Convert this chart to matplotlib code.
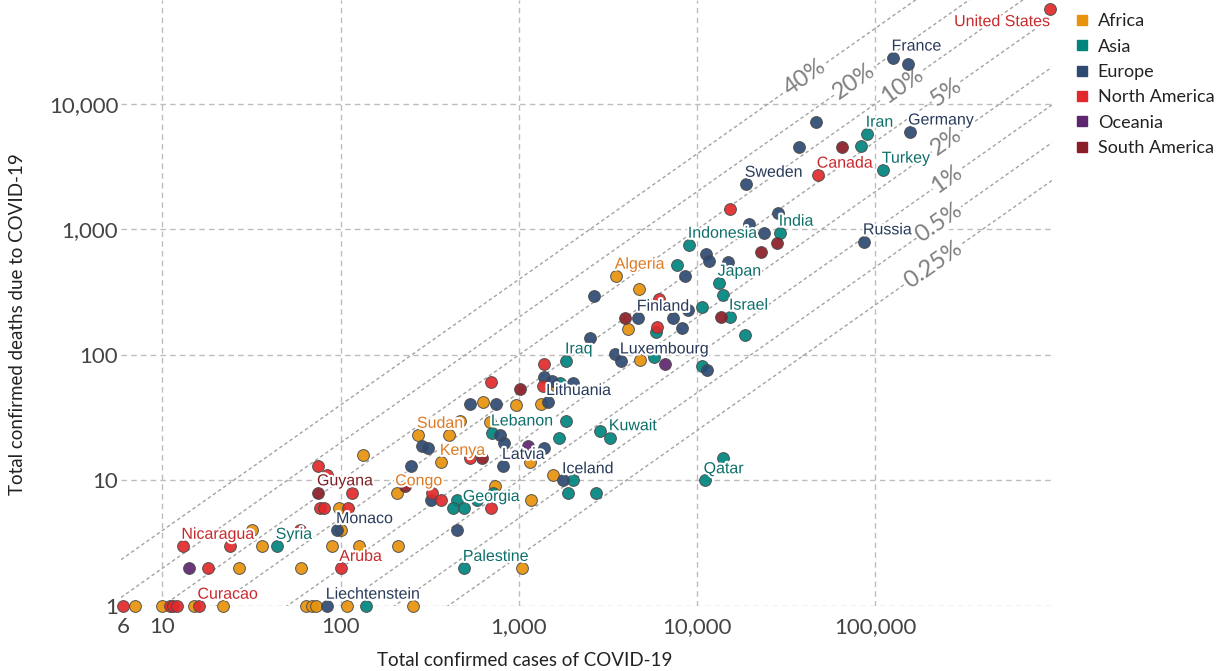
import matplotlib
matplotlib.use('Agg')
import matplotlib.pyplot as plt
import matplotlib.patheffects as pe
from matplotlib.lines import Line2D
from matplotlib.ticker import NullLocator
import numpy as np

# --- data: total cases, total deaths, label ('' = no label)
africa_cases = [3520, 4740, 4110, 4800, 1620, 632, 968, 1340, 470, 692, 273, 407, 134,
                367, 1160, 1560, 206, 738, 1175, 98, 100, 32, 211, 36, 89, 126, 27, 60,
                1047, 7, 10, 15, 22, 64, 69, 73, 109, 256]
africa_deaths = [426, 336, 161, 91, 57, 42, 40, 41, 30, 29, 23, 23, 16,
                 14, 14, 11, 8, 9, 7, 6, 4, 4, 3, 3, 3, 3, 2, 2,
                 2, 1, 1, 1, 1, 1, 1, 1, 1, 1]
africa_names = ['Algeria', '', '', '', '', '', '', '', '', '', 'Sudan', '', '',
                'Kenya', '', '', 'Congo', '', '', '', '', '', '', '', '', '', '', '',
                '', '', '', '', '', '', '', '', '', '']

asia_cases = [83400, 90200, 111000, 29300, 9050, 7750, 13300, 14000, 10700, 15400,
              5900, 18700, 5750, 10700, 1850, 1710, 1850, 710, 1690, 2860, 3260,
              2020, 1900, 2720, 11100, 14000, 452, 430, 494, 585, 719, 44, 494, 138]
asia_deaths = [4630, 5770, 2980, 938, 752, 521, 375, 301, 241, 201,
               152, 144, 96, 82, 90, 60, 30, 24, 22, 25, 22,
               10, 8, 8, 10, 15, 7, 6, 6, 7, 8, 3, 2, 1]
asia_names = ['', 'Iran', 'Turkey', 'India', 'Indonesia', '', 'Japan', '', '', 'Israel',
              '', '', '', '', 'Iraq', '', '', 'Lebanon', '', '', 'Kuwait',
              '', '', '', 'Qatar', '', '', '', 'Georgia', '', '', 'Syria', 'Palestine', '']

europe_cases = [126000, 153000, 46700, 37500, 156000, 18900, 28600, 19600, 23800, 87000,
                15000, 11300, 11700, 8590, 2650, 8930, 4680, 7360, 8270, 2520, 3480,
                3760, 11400, 1390, 1540, 2020, 535, 748, 1450, 787, 830, 1390, 288,
                311, 249, 819, 1780, 323, 96, 452, 84]
europe_deaths = [23300, 21000, 7190, 4540, 6000, 2300, 1350, 1107, 938, 800,
                 551, 638, 561, 426, 295, 228, 197, 197, 164, 137, 102,
                 90, 76, 67, 62, 60, 41, 41, 42, 23, 20, 18, 19,
                 18, 13, 13, 10, 7, 4, 4, 1]
europe_names = ['France', '', '', '', 'Germany', 'Sweden', '', '', '', 'Russia',
                '', '', '', '', '', '', 'Finland', '', '', '', '',
                'Luxembourg', '', '', '', '', '', '', 'Lithuania', '', '', '', '',
                '', '', 'Latvia', 'Iceland', '', 'Monaco', '', 'Liechtenstein']

namerica_cases = [965000, 47900, 15400, 6140, 5980, 1390, 1370, 702, 535, 75, 84, 116,
                  327, 367, 702, 77, 81, 110, 59, 13, 24, 18, 100, 6, 11, 11.5, 12, 16]
namerica_deaths = [57000, 2720, 1456, 279, 167, 85, 57, 61, 15, 13, 11, 8,
                   8, 7, 6, 6, 6, 6, 4, 3, 3, 2, 2, 1, 1, 1, 1, 1]
namerica_names = ['United States', 'Canada', '', '', '', '', '', '', '', '', '', '',
                  '', '', '', '', '', '', '', 'Nicaragua', '', '', 'Aruba', '', '', '', '', 'Curacao']

oceania_cases = [6640, 1130, 14]
oceania_deaths = [85, 19, 2]
oceania_names = ['', '', '']

samerica_cases = [65300, 28200, 22900, 13700, 3960, 1010, 624, 75, 231]
samerica_deaths = [4540, 780, 662, 201, 197, 54, 15, 8, 9]
samerica_names = ['', '', '', '', '', '', '', 'Guyana', '']

cfr_values = [0.4, 0.2, 0.1, 0.05, 0.02, 0.01, 0.005, 0.0025]
cfr_labels = ['40%', '20%', '10%', '5%', '2%', '1%', '0.5%', '0.25%']

regions = ['Africa', 'Asia', 'Europe', 'North America', 'Oceania', 'South America']
point_colors = ['#E8930C', '#00857E', '#2E4A73', '#E1292B', '#5E2670', '#8B1D27']
text_colors = ['#DD7A24', '#0E6F6A', '#283A5A', '#C8282B', '#5E2670', '#7D1D24']

series = {
    'Africa': (africa_cases, africa_deaths, africa_names),
    'Asia': (asia_cases, asia_deaths, asia_names),
    'Europe': (europe_cases, europe_deaths, europe_names),
    'North America': (namerica_cases, namerica_deaths, namerica_names),
    'Oceania': (oceania_cases, oceania_deaths, oceania_names),
    'South America': (samerica_cases, samerica_deaths, samerica_names),
}

W, H = 1228, 671
fig = plt.figure(figsize=(W / 100, H / 100), dpi=100)
ax = fig.add_axes([121 / W, 65 / H, 931 / W, 606 / H])
ax.set_xscale('log')
ax.set_yscale('log')
ax.set_xlim(5.85, 984000)
ax.set_ylim(1, 67400)

for s in ax.spines.values():
    s.set_visible(False)

ax.set_xticks([10, 100, 1000, 10000, 100000])
ax.set_xticklabels(['10', '100', '1,000', '10,000', '100,000'])
ax.set_xticks([6], minor=True)
ax.set_xticklabels(['6'], minor=True)
ax.set_yticks([1, 10, 100, 1000, 10000])
ax.set_yticklabels(['1', '10', '100', '1,000', '10,000'])
ax.yaxis.set_minor_locator(NullLocator())
ax.tick_params(which='both', length=0, labelsize=16, labelcolor='#444444')
ax.tick_params(axis='x', which='both', pad=8)
ax.tick_params(axis='y', pad=2)
for lab in ax.get_xticklabels(which='both') + ax.get_yticklabels():
    lab.set_family('Lato')
ax.grid(True, which='major', color='#bdbdbd', ls=(0, (4, 3)), lw=1)
ax.set_axisbelow(True)

# constant case-fatality lines
xs = np.array(ax.get_xlim())
p1 = ax.transData.transform((10, 1))
p2 = ax.transData.transform((100, 10))
angle = np.degrees(np.arctan2(p2[1] - p1[1], p2[0] - p1[0]))
label_at = [40500, 76200, 141600, 250000, 253000, 253000, 228000, 211000]
for p, lab, xl in zip(cfr_values, cfr_labels, label_at):
    ax.plot(xs, p * xs, color='#a3a3a3', lw=1, ls=(0, (2.5, 2)), zorder=1)
    ax.text(xl, p * xl, lab, rotation=angle, rotation_mode='anchor',
            ha='center', va='center', fontsize=17, color='#7f7f7f', family='Lato',
            bbox=dict(boxstyle='square,pad=0.05', fc='white', ec='none'), zorder=2)

halo = [pe.withStroke(linewidth=3, foreground='white')]
for reg, pc, tc in zip(regions, point_colors, text_colors):
    cases, deaths, names = series[reg]
    ax.scatter(cases, deaths, s=72, color=pc, edgecolor='#4a4a4a', linewidth=0.7,
               alpha=0.92, zorder=3, clip_on=False)
    for c, d, n in zip(cases, deaths, names):
        if not n:
            continue
        if n == 'United States':
            off, ha = (0, -9), 'right'
        else:
            off, ha = (-1, 8.5), 'left'
        ax.annotate(n, (c, d), xytext=off, textcoords='offset points', ha=ha, va='center',
                    fontsize=11.5, color=tc, family='Liberation Sans',
                    path_effects=halo, zorder=4)

handles = [Line2D([], [], marker='s', ls='', color=c, markersize=7) for c in point_colors]
fig.legend(handles, regions, loc='upper left', bbox_to_anchor=(1068 / W, 1 - 6 / H),
           frameon=False, handlelength=0.8, handletextpad=0.45, labelspacing=0.52,
           borderaxespad=0, prop={'family': 'Lato', 'size': 13}, labelcolor='#222222')

fig.text(18 / W, 1 - 324 / H, 'Total confirmed deaths due to COVID-19', rotation=90,
         ha='center', va='center', fontsize=13.5, family='Lato', color='#222222')
fig.text(525 / W, 1 - 660 / H, 'Total confirmed cases of COVID-19',
         ha='center', va='center', fontsize=13.5, family='Lato', color='#222222')

fig.savefig('out.png', dpi=100)
